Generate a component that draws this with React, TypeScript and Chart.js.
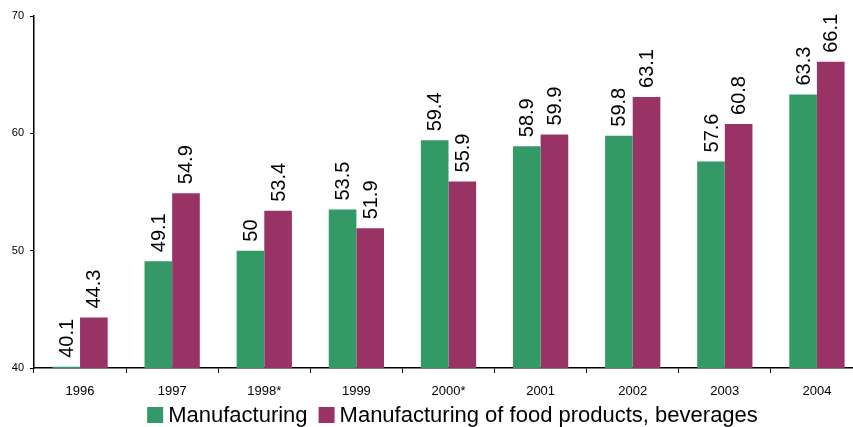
import React, { useEffect, useRef } from "react";
import { Chart, registerables } from "chart.js";

Chart.register(...registerables);

const categories = ["1996", "1997", "1998*", "1999", "2000*", "2001", "2002", "2003", "2004"];
const manufacturing = [40.1, 49.1, 50, 53.5, 59.4, 58.9, 59.8, 57.6, 63.3];
const foodBeverages = [44.3, 54.9, 53.4, 51.9, 55.9, 59.9, 63.1, 60.8, 66.1];
const seriesNames = ["Manufacturing", "Manufacturing of food products, beverages"];
const seriesColors = ["#339966", "#993366"];
const yTicks = [40, 50, 60, 70];

const FONT = "'Liberation Sans', Arial, Helvetica, sans-serif";

const valueLabels = {
  id: "valueLabels",
  afterDatasetsDraw(chart: any) {
    const ctx = chart.ctx;
    ctx.save();
    ctx.font = `20px ${FONT}`;
    ctx.fillStyle = "#000";
    ctx.textAlign = "left";
    ctx.textBaseline = "middle";
    chart.data.datasets.forEach((ds: any, di: number) => {
      const meta = chart.getDatasetMeta(di);
      meta.data.forEach((bar: any, i: number) => {
        ctx.save();
        ctx.translate(bar.x, bar.y - 9);
        ctx.rotate(-Math.PI / 2);
        ctx.fillText(String(ds.data[i]), 0, 1);
        ctx.restore();
      });
    });
    ctx.restore();
  },
};

const customLegend = {
  id: "customLegend",
  afterDraw(chart: any) {
    const ctx = chart.ctx;
    const area = chart.chartArea;
    ctx.save();
    ctx.font = `22px ${FONT}`;
    const box = 16;
    const gapText = 5;
    const gapItem = 11;
    const widths = seriesNames.map((n) => ctx.measureText(n).width);
    let total = 0;
    widths.forEach((w, i) => {
      total += box + gapText + w + (i < widths.length - 1 ? gapItem : 0);
    });
    let x = (area.left + area.right) / 2 - total / 2 + 4;
    const cy = area.bottom + 47;
    ctx.textBaseline = "middle";
    ctx.textAlign = "left";
    seriesNames.forEach((n, i) => {
      ctx.fillStyle = seriesColors[i];
      ctx.fillRect(x, cy - box / 2, box, box);
      x += box + gapText;
      ctx.fillStyle = "#000";
      ctx.fillText(n, x, cy + 1);
      x += widths[i] + gapItem;
    });
    ctx.restore();
  },
};

export default function App() {
  const ref = useRef<HTMLCanvasElement | null>(null);
  useEffect(() => {
    if (!ref.current) return;
    const chart = new Chart(ref.current, {
      type: "bar",
      data: {
        labels: categories,
        datasets: [
          {
            label: seriesNames[0],
            data: manufacturing,
            backgroundColor: seriesColors[0],
            barPercentage: 1.0,
            categoryPercentage: 0.6,
          },
          {
            label: seriesNames[1],
            data: foodBeverages,
            backgroundColor: seriesColors[1],
            barPercentage: 1.0,
            categoryPercentage: 0.6,
          },
        ],
      },
      options: {
        responsive: false,
        animation: false,
        layout: { padding: { left: 0, right: 7, top: 16, bottom: 0 } },
        plugins: {
          legend: { display: false },
          tooltip: { enabled: false },
        },
        scales: {
          x: {
            offset: true,
            grid: {
              display: true,
              offset: true,
              drawOnChartArea: false,
              tickLength: 5,
              color: "#000",
            },
            border: { display: true, color: "#000", width: 1.5 },
            ticks: {
              color: "#000",
              font: { family: FONT, size: 13 },
              padding: 11,
              maxRotation: 0,
              autoSkip: false,
            },
            afterFit: (s: any) => {
              s.height = 59;
            },
          },
          y: {
            min: 40,
            max: 70,
            afterBuildTicks: (s: any) => {
              s.ticks = yTicks.map((v) => ({ value: v }));
            },
            grid: {
              display: true,
              drawOnChartArea: false,
              tickLength: 4,
              color: "#000",
            },
            border: { display: true, color: "#000", width: 1.5 },
            ticks: {
              color: "#000",
              font: { family: FONT, size: 11 },
              padding: 6,
            },
            afterFit: (s: any) => {
              s.width = 34;
            },
          },
        },
      },
      plugins: [valueLabels, customLegend],
    });
    return () => chart.destroy();
  }, []);
  return (
    <div
      style={{
        position: "fixed",
        left: 0,
        top: 0,
        width: 853,
        height: 427,
        overflow: "hidden",
        background: "#fff",
      }}
    >
      <canvas ref={ref} width={870} height={427} style={{ display: "block" }} />
    </div>
  );
}
